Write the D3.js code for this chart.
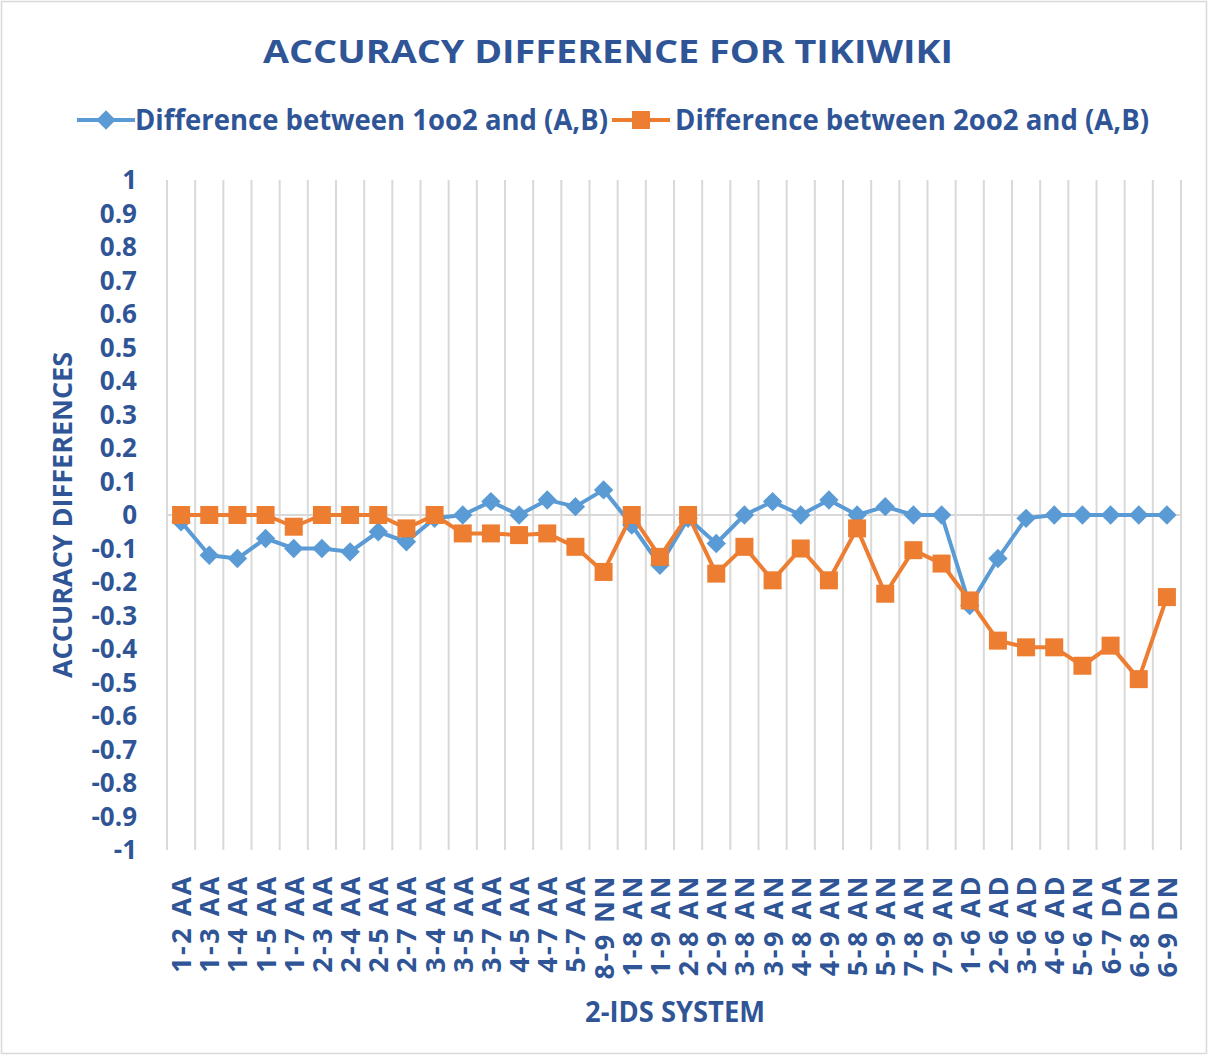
<!DOCTYPE html>
<html>
<head>
<meta charset="utf-8">
<script src="https://cdn.jsdelivr.net/npm/d3@7"></script>
<style>
  body { margin: 0; background: #fff; }
  text { font-family: "Open Sans", "DejaVu Sans", sans-serif; font-weight: bold; fill: #2F5597; }
</style>
</head>
<body>
<svg id="chart" width="1209" height="1056"></svg>
<script>
// categories (2-IDS systems)
const categories = ["1-2 AA","1-3 AA","1-4 AA","1-5 AA","1-7 AA","2-3 AA","2-4 AA","2-5 AA","2-7 AA","3-4 AA",
  "3-5 AA","3-7 AA","4-5 AA","4-7 AA","5-7 AA","8-9 NN","1-8 AN","1-9 AN","2-8 AN","2-9 AN",
  "3-8 AN","3-9 AN","4-8 AN","4-9 AN","5-8 AN","5-9 AN","7-8 AN","7-9 AN","1-6 AD","2-6 AD",
  "3-6 AD","4-6 AD","5-6 AN","6-7 DA","6-8 DN","6-9 DN"];

// Difference between 1oo2 and (A,B)
const diff1oo2 = [-0.02,-0.12,-0.13,-0.07,-0.10,-0.10,-0.11,-0.05,-0.08,-0.01,
  0.00,0.04,0.00,0.045,0.025,0.075,-0.03,-0.15,-0.01,-0.085,
  0.00,0.04,0.00,0.045,0.00,0.025,0.00,0.00,-0.27,-0.13,
  -0.01,0.00,0.00,0.00,0.00,0.00];

// Difference between 2oo2 and (A,B)
const diff2oo2 = [0,0,0,0,-0.035,0,0,0,-0.04,0,
  -0.055,-0.055,-0.06,-0.055,-0.095,-0.17,0,-0.125,0,-0.175,
  -0.095,-0.195,-0.10,-0.195,-0.04,-0.235,-0.105,-0.145,-0.255,-0.375,
  -0.395,-0.395,-0.45,-0.39,-0.49,-0.245];

const yTicks = [1,0.9,0.8,0.7,0.6,0.5,0.4,0.3,0.2,0.1,0,-0.1,-0.2,-0.3,-0.4,-0.5,-0.6,-0.7,-0.8,-0.9,-1];

const seriesNames = ["Difference between  1oo2 and (A,B)", "Difference between  2oo2 and (A,B)"];
const blue = "#5B9BD5", orange = "#ED7D31", grid = "#D9D9D9";

const svg = d3.select("#chart");
const plotL = 167, plotR = 1181, plotT = 180, plotB = 850;

// chart border
svg.append("rect").attr("x", 1.5).attr("y", 1.5).attr("width", 1205).attr("height", 1052)
  .attr("fill", "none").attr("stroke", grid).attr("stroke-width", 1.5);

const x = d3.scaleBand().domain(categories).range([plotL, plotR]);
const y = d3.scaleLinear().domain([-1, 1]).range([plotB, plotT]);

// vertical gridlines at category boundaries
const bounds = categories.map(c => x(c)).concat([plotR]);
svg.append("g").selectAll("line").data(bounds).enter().append("line")
  .attr("x1", d => d).attr("x2", d => d).attr("y1", plotT).attr("y2", plotB)
  .attr("stroke", grid).attr("stroke-width", 2);

// zero line
svg.append("line").attr("x1", plotL).attr("x2", plotR).attr("y1", y(0)).attr("y2", y(0))
  .attr("stroke", grid).attr("stroke-width", 2);

// y tick labels
svg.append("g").selectAll("text").data(yTicks).enter().append("text")
  .attr("x", 137).attr("y", d => y(d)).attr("dy", "0.36em")
  .attr("text-anchor", "end").style("font-size", "26px")
  .text(d => String(d));

// x tick labels
svg.append("g").selectAll("text").data(categories).enter().append("text")
  .attr("transform", d => `translate(${x(d) + x.bandwidth() / 2 + 10},874) rotate(-90)`)
  .attr("text-anchor", "end").style("font-size", "27px").style("letter-spacing", "2.5px")
  .text(d => d);

// axis titles
svg.append("text").attr("transform", "translate(72,515) rotate(-90)")
  .attr("text-anchor", "middle").style("font-size", "26px")
  .attr("textLength", 326).attr("lengthAdjust", "spacingAndGlyphs")
  .text("ACCURACY DIFFERENCES");
svg.append("text").attr("x", 675).attr("y", 1022)
  .attr("text-anchor", "middle").style("font-size", "28px")
  .attr("textLength", 180).attr("lengthAdjust", "spacingAndGlyphs")
  .text("2-IDS SYSTEM");

// title
svg.append("text").attr("x", 608).attr("y", 63)
  .attr("text-anchor", "middle").style("font-size", "32px")
  .attr("textLength", 690).attr("lengthAdjust", "spacingAndGlyphs")
  .text("ACCURACY DIFFERENCE FOR TIKIWIKI");

const line = d3.line().x((d, i) => x(categories[i]) + x.bandwidth() / 2).y(d => y(d));

function drawSeries(values, color, shape) {
  svg.append("path").datum(values).attr("d", line)
    .attr("fill", "none").attr("stroke", color).attr("stroke-width", 4)
    .attr("stroke-linejoin", "round");
  svg.append("g").selectAll("path").data(values).enter().append("path")
    .attr("transform", (d, i) => `translate(${x(categories[i]) + x.bandwidth() / 2},${y(d)})`)
    .attr("d", shape).attr("fill", color);
}
const diamond = d3.symbol().type(d3.symbolDiamond2).size(240)();
const square = "M-9,-9H9V9H-9Z";

drawSeries(diff1oo2, blue, diamond);
drawSeries(diff2oo2, orange, square);

// legend
const legend = [
  {name: seriesNames[0], color: blue, shape: diamond, x0: 77, tx: 135, w: 473},
  {name: seriesNames[1], color: orange, shape: square, x0: 612, tx: 675, w: 474}
];
const lg = svg.append("g").selectAll("g").data(legend).enter().append("g");
lg.append("line").attr("x1", d => d.x0).attr("x2", d => d.x0 + 58).attr("y1", 120).attr("y2", 120)
  .attr("stroke", d => d.color).attr("stroke-width", 4);
lg.append("path").attr("transform", d => `translate(${d.x0 + 29},120)`)
  .attr("d", d => d.shape).attr("fill", d => d.color);
lg.append("text").attr("x", d => d.tx).attr("y", 120).attr("dy", "0.36em")
  .style("font-size", "28px").attr("textLength", d => d.w).attr("lengthAdjust", "spacingAndGlyphs")
  .text(d => d.name);
</script>
</body>
</html>
